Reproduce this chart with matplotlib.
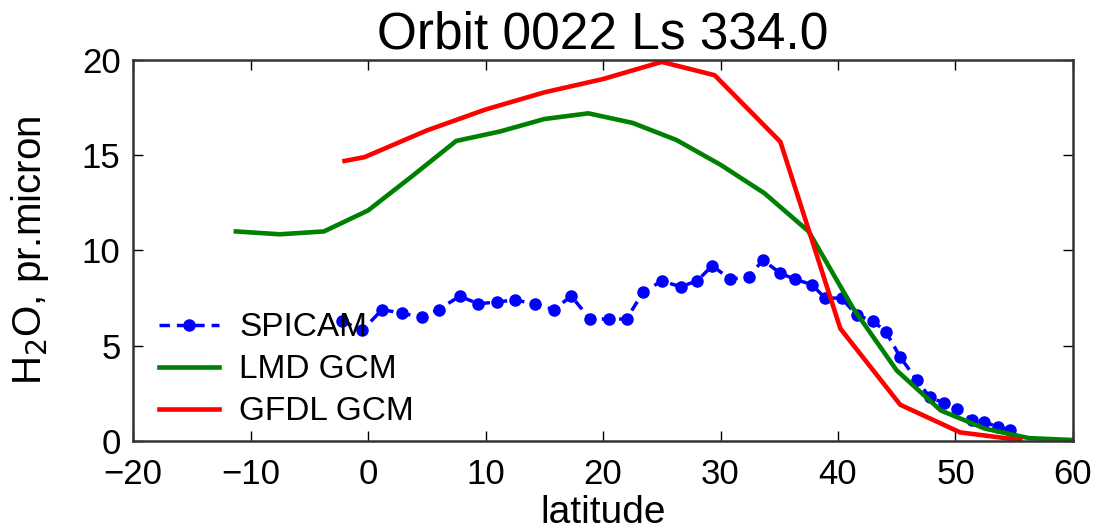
import numpy as np
import matplotlib
matplotlib.use('Agg')
import matplotlib.pyplot as plt

plt.rcParams['font.family'] = ['Liberation Sans', 'DejaVu Sans']

# SPICAM retrieval along the orbit
spicam_lat = [-2.2, -0.5, 1.2, 2.9, 4.6, 6.0, 7.8, 9.4, 11.0, 12.5, 14.2, 15.8,
              17.3, 18.9, 20.5, 22.0, 23.4, 25.0, 26.6, 28.0, 29.3, 30.8, 32.4,
              33.6, 35.1, 36.3, 37.8, 38.9, 40.3, 41.6, 43.0, 44.1, 45.3, 46.7,
              47.8, 49.0, 50.1, 51.4, 52.4, 53.6, 54.6]
spicam_h2o = [6.3, 5.8, 6.9, 6.7, 6.5, 6.9, 7.6, 7.2, 7.3, 7.4, 7.2, 6.9,
              7.6, 6.4, 6.4, 6.4, 7.8, 8.4, 8.1, 8.4, 9.2, 8.5, 8.6,
              9.5, 8.8, 8.5, 8.2, 7.5, 7.5, 6.6, 6.3, 5.7, 4.4, 3.2,
              2.3, 2.0, 1.7, 1.1, 1.0, 0.75, 0.6]

# LMD GCM
lmd_lat = [-11.25, -7.5, -3.75, 0, 3.75, 7.5, 11.25, 15, 18.75, 22.5, 26.25,
           30, 33.75, 37.5, 41.25, 45, 48.75, 52.5, 56.25, 60]
lmd_h2o = [11.0, 10.85, 11.0, 12.1, 13.9, 15.75, 16.25, 16.9, 17.2, 16.7, 15.8,
           14.5, 13.0, 11.0, 7.0, 3.7, 1.6, 0.65, 0.15, 0.05]

# GFDL GCM
gfdl_lat = [-2.0, -0.3, 5, 10, 15, 20, 25, 29.5, 35.1, 40.2, 45.3, 50.4, 55.5]
gfdl_h2o = [14.7, 14.9, 16.3, 17.4, 18.3, 19.0, 19.9, 19.2, 15.7, 5.9, 1.9, 0.45, 0.05]

fig = plt.figure(figsize=(10.96, 5.29), dpi=100)
ax = fig.add_axes([0.1214, 0.1664, 0.8576, 0.7202])

ax.plot(spicam_lat, spicam_h2o, 'b--', marker='o', markersize=8, linewidth=2.5,
        dashes=(3, 2), label='SPICAM')
ax.plot(lmd_lat, lmd_h2o, color=(0, 0.5, 0), linewidth=3.3, label='LMD GCM')
ax.plot(gfdl_lat, gfdl_h2o, color='r', linewidth=3.3, label='GFDL GCM')

ax.set_xlim(-20, 60)
ax.set_ylim(0, 20)
ax.set_xticks(np.arange(-20, 61, 10))
ax.set_yticks(np.arange(0, 21, 5))
ax.tick_params(direction='in', top=True, right=True, length=7, width=1,
               labelsize=25, pad=9)
ax.tick_params(axis='x', pad=12)
for s in ax.spines.values():
    s.set_linewidth(1.8)
    s.set_color('#333333')

ax.set_title('Orbit 0022 Ls 334.0', fontsize=37, pad=8)
ax.set_xlabel('latitude', fontsize=28, labelpad=3)
ax.set_ylabel('H$_2$O, pr.micron', fontsize=29, labelpad=22)

ax.legend(loc='lower left', frameon=False, fontsize=24, numpoints=1,
          handlelength=1.8, handletextpad=0.6, labelspacing=0.33,
          borderaxespad=0.1, bbox_to_anchor=(0.01, -0.008))

fig.savefig('out.png', dpi=100)
